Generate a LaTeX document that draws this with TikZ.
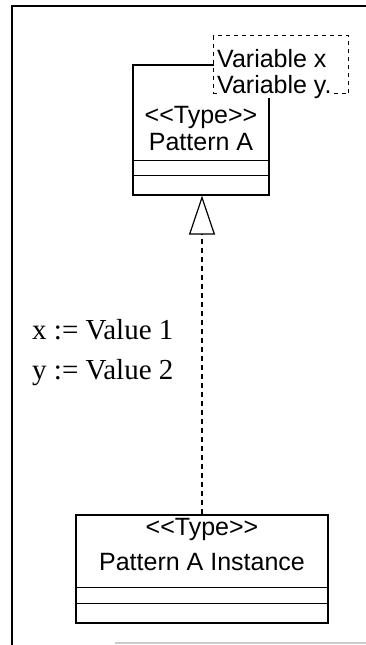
\documentclass[tikz,border=0pt]{standalone}
\usepackage{fontspec}
\setmainfont{Liberation Serif}
\setsansfont{Liberation Sans}
\usepackage{tikz}
\usetikzlibrary{arrows.meta}

\begin{document}
\begin{tikzpicture}[
  x=1pt, y=1pt,
  line cap=butt,
  line join=miter,
  classbox/.style={draw, line width=1.3pt, fill=white, inner sep=0pt},
  classtext/.style={align=center, inner sep=0pt, font=\fontsize{25}{27}\sffamily},
  varbox/.style={draw, line width=1.1pt, dash pattern=on 4pt off 4pt, fill=white, inner sep=0pt},
  vartext/.style={align=left, inner sep=0pt, fill=white, font=\fontsize{25}{26}\sffamily},
  realize/.style={line width=1.1pt, dash pattern=on 5pt off 4pt,
    -{Triangle[open, length=39pt, width=26pt, line width=1.2pt, fill=white]}},
  bindtext/.style={align=left, inner sep=0pt, font=\fontsize{29}{40}\selectfont}
]
  \useasboundingbox (0,0) rectangle (366,-645);

  % Frame of the figure
  \draw[line width=1.8pt] (12,-645) -- (12,-6) -- (366,-6);
  \draw[gray!40, line width=1.2pt] (115,-643) -- (366,-643);

  % Pattern A with its template parameters
  \node[classbox, minimum width=136, minimum height=130] (patA) at (201,-130) {};
  \draw[line width=1.3pt] ([yshift=35pt]patA.south west) -- ([yshift=35pt]patA.south east);
  \draw[line width=1.3pt] ([yshift=20pt]patA.south west) -- ([yshift=20pt]patA.south east);
  \node[classtext] (patAname) at (201,-128.5) {{<}{<}Type{>}{>}\\Pattern A};
  \node[varbox, minimum width=135, minimum height=58, anchor=north west] (vars) at (213,-35) {};
  \node[vartext, anchor=base west] (varsname) at (217,-93) {Variable x\\Variable y.};

  % Instance of the pattern
  \node[classbox, minimum width=252, minimum height=108] (inst) at (202,-569) {};
  \draw[line width=1.3pt] ([yshift=36pt]inst.south west) -- ([yshift=36pt]inst.south east);
  \draw[line width=1.3pt] ([yshift=20pt]inst.south west) -- ([yshift=20pt]inst.south east);
  \node[classtext, font=\fontsize{25}{35}\sffamily] (instname) at (202,-545)
    {{<}{<}Type{>}{>}\\Pattern A Instance};

  % Binding of the parameters
  \draw[realize] (inst.north) -- (inst.north |- patA.south);
  \node[bindtext, anchor=west] (bind) at (32,-353) {x := Value 1\\y := Value 2};
\end{tikzpicture}
\end{document}
